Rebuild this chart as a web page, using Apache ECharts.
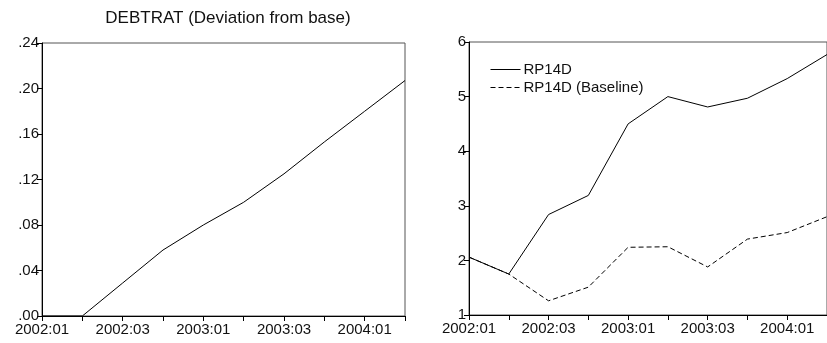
<!DOCTYPE html>
<html>
<head>
<meta charset="utf-8">
<script src="https://cdn.jsdelivr.net/npm/echarts@6/dist/echarts.min.js"></script>
<style>
html,body{margin:0;padding:0;background:#fff;}
#c{width:827px;height:343px;}
</style>
</head>
<body>
<div id="c"></div>
<script>
const categories = ['2002:01','2002:02','2002:03','2002:04','2003:01','2003:02','2003:03','2003:04','2004:01','2004:02'];
const debtrat = [0.000, 0.000, 0.029, 0.058, 0.080, 0.100, 0.125, 0.153, 0.180, 0.207];
const rp14d = [2.06, 1.75, 2.84, 3.19, 4.50, 5.00, 4.81, 4.97, 5.33, 5.77];
const rp14dBaseline = [2.06, 1.75, 1.26, 1.51, 2.24, 2.25, 1.88, 2.39, 2.51, 2.80];
const leftTicks = {min: 0, max: 0.24, interval: 0.04};
const rightTicks = {min: 1, max: 6, interval: 1};

const FONT = 'Arial, "Liberation Sans", sans-serif';
const chart = echarts.init(document.getElementById('c'), null, {renderer: 'canvas'});

function xAxis(gridIndex) {
  return {
    type: 'category', gridIndex, data: categories, boundaryGap: false,
    axisLine: {lineStyle: {color: '#000', width: 1}},
    axisTick: {interval: 0, length: 5, lineStyle: {color: '#000'}},
    axisLabel: {interval: (i) => i % 2 === 0, hideOverlap: false, color: '#111', fontSize: 15, fontFamily: FONT, margin: 6},
    splitLine: {show: false}
  };
}
function yAxis(gridIndex, t, fmt) {
  return {
    type: 'value', gridIndex, min: t.min, max: t.max, interval: t.interval,
    axisLine: {show: true, lineStyle: {color: '#000', width: 1}},
    axisTick: {show: true, length: 5, lineStyle: {color: '#000'}},
    axisLabel: {color: '#111', fontSize: 15, fontFamily: FONT, margin: 3, formatter: fmt},
    splitLine: {show: false}
  };
}

chart.setOption({
  animation: false,
  backgroundColor: '#fff',
  title: {
    text: 'DEBTRAT (Deviation from base)',
    left: 223, top: 5, textAlign: 'center',
    textStyle: {fontSize: 17, fontWeight: 'normal', color: '#111', fontFamily: FONT}
  },
  legend: {
    data: ['RP14D', 'RP14D (Baseline)'],
    orient: 'vertical', left: 490, top: 62, padding: 0,
    itemWidth: 30, itemHeight: 14, itemGap: 3,
    itemStyle: {opacity: 0},
    lineStyle: {width: 1},
    textStyle: {fontSize: 15, color: '#111', fontFamily: FONT, padding: [0,0,0,-2]}
  },
  grid: [
    {left: 42, top: 43, width: 363, height: 273, show: true, borderColor: '#555', borderWidth: 1},
    {left: 469, top: 42, width: 363, height: 273, show: true, borderColor: '#555', borderWidth: 1}
  ],
  xAxis: [xAxis(0), xAxis(1)],
  yAxis: [
    yAxis(0, leftTicks, v => v.toFixed(2).replace(/^0/, '')),
    yAxis(1, rightTicks, v => String(v))
  ],
  series: [
    {name: 'DEBTRAT', type: 'line', xAxisIndex: 0, yAxisIndex: 0, data: debtrat,
     symbol: 'none', lineStyle: {color: '#000', width: 1}, itemStyle: {color: '#000'}},
    {name: 'RP14D', type: 'line', xAxisIndex: 1, yAxisIndex: 1, data: rp14d,
     symbol: 'none', lineStyle: {color: '#000', width: 1}, itemStyle: {color: '#000'}},
    {name: 'RP14D (Baseline)', type: 'line', xAxisIndex: 1, yAxisIndex: 1, data: rp14dBaseline,
     symbol: 'none', lineStyle: {color: '#000', width: 1, type: [5, 3]}, itemStyle: {color: '#000'}}
  ]
});
</script>
</body>
</html>
